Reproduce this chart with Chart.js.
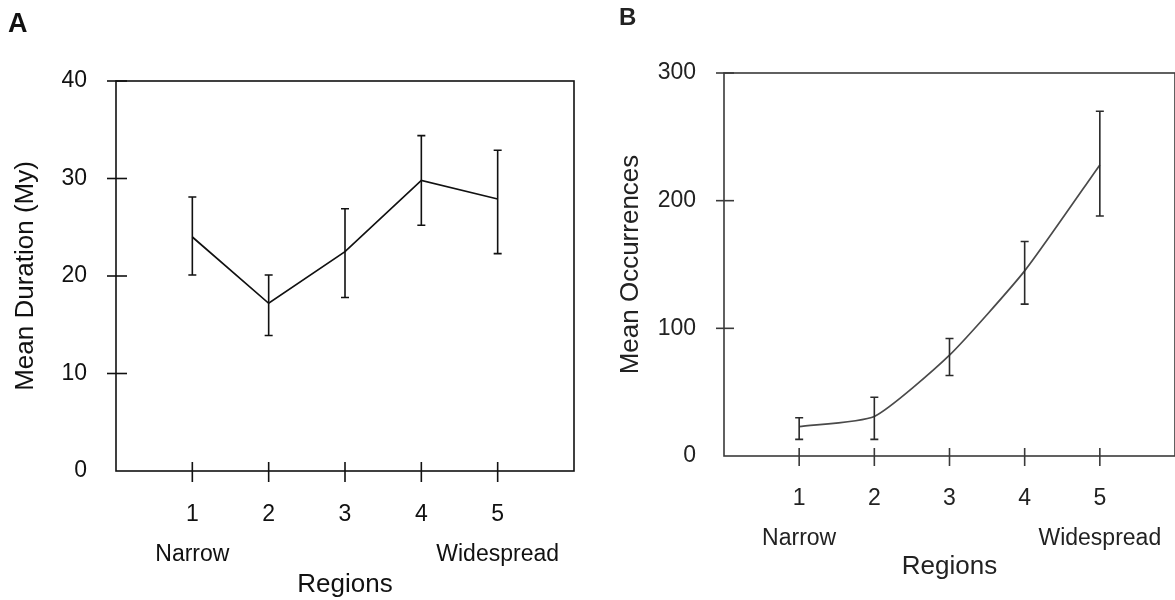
<!DOCTYPE html>
<html><head><meta charset="utf-8">
<script src="https://cdn.jsdelivr.net/npm/chart.js@4.4.1/dist/chart.umd.min.js"></script>
<style>
html,body{margin:0;padding:0;background:#fff;overflow:hidden;width:1175px;height:600px}
#wa{position:absolute;left:0;top:0;width:590px;height:600px}
#wb{position:absolute;left:590px;top:0;width:600px;height:600px}
canvas{display:block}
</style></head><body>
<div id="wa"><canvas id="ca" width="590" height="600"></canvas></div>
<div id="wb"><canvas id="cb" width="600" height="600"></canvas></div>
<script>
// ---- data ----
const regions = [1, 2, 3, 4, 5];
const regionTickLabels = ['1', '2', '3', '4', '5'];
const regionEndLabels = ['Narrow', '', '', '', 'Widespread'];
const durationMean = [24.0, 17.2, 22.5, 29.8, 27.9];
const durationLow  = [20.1, 13.9, 17.8, 25.2, 22.3];
const durationHigh = [28.1, 20.1, 26.9, 34.4, 32.9];
const durationTicks = [0, 10, 20, 30, 40];
const occMean = [23, 31, 79, 145, 228];
const occLow  = [13, 13, 63, 119, 188];
const occHigh = [30, 46, 92, 168, 270];
const occTicks = [0, 100, 200, 300];

const FONT = "'Liberation Sans', Arial, sans-serif";

function xTickLabel(v) {
  const i = regions.indexOf(v);
  if (i < 0) return '';
  return regionEndLabels[i] ? [regionTickLabels[i], regionEndLabels[i]] : regionTickLabels[i];
}

const extras = {
  id: 'extras',
  beforeDatasetsDraw(chart, args, o) {
    const {ctx, chartArea: a, scales: {x, y}} = chart;
    ctx.save();
    ctx.strokeStyle = o.axisColor; ctx.lineWidth = 1.6;
    ctx.strokeRect(a.left, a.top, a.right - a.left, a.bottom - a.top);
    // crossing ticks
    o.yTicks.forEach(v => {
      if (v === 0) return;
      const py = y.getPixelForValue(v);
      ctx.beginPath(); ctx.moveTo(a.left - o.tickOut, py); ctx.lineTo(a.left + o.tickIn, py); ctx.stroke();
    });
    regions.forEach(v => {
      const px = x.getPixelForValue(v);
      ctx.beginPath(); ctx.moveTo(px, a.bottom - o.tickIn + 2); ctx.lineTo(px, a.bottom + o.tickOut + 2); ctx.stroke();
    });
    // panel letter
    ctx.fillStyle = o.textColor;
    ctx.font = 'bold ' + o.letterSize + 'px ' + FONT;
    ctx.textBaseline = 'alphabetic';
    ctx.fillText(o.letter, o.letterX, o.letterY);
    ctx.restore();
  },
  afterDatasetsDraw(chart, args, o) {
    const {ctx, scales: {x, y}} = chart;
    ctx.save();
    ctx.strokeStyle = o.errColor; ctx.lineWidth = 1.6;
    regions.forEach((r, i) => {
      const px = x.getPixelForValue(r);
      const lo = y.getPixelForValue(o.low[i]);
      const hi = y.getPixelForValue(o.high[i]);
      ctx.beginPath();
      ctx.moveTo(px, lo); ctx.lineTo(px, hi);
      ctx.moveTo(px - 4, lo); ctx.lineTo(px + 4, lo);
      ctx.moveTo(px - 4, hi); ctx.lineTo(px + 4, hi);
      ctx.stroke();
    });
    ctx.restore();
  }
};

function makeChart(id, cfg) {
  return new Chart(document.getElementById(id), {
    type: 'line',
    data: {
      datasets: [{
        data: regions.map((r, i) => ({x: r, y: cfg.mean[i]})),
        borderColor: cfg.lineColor,
        borderWidth: 1.7,
        pointRadius: 0,
        fill: false,
        tension: cfg.tension
      }]
    },
    options: {
      responsive: false,
      animation: false,
      events: [],
      layout: {padding: cfg.padding},
      plugins: {
        legend: {display: false},
        tooltip: {enabled: false},
        extras: {
          axisColor: cfg.axisColor, textColor: cfg.textColor, errColor: cfg.errColor,
          yTicks: cfg.yTicks, low: cfg.low, high: cfg.high,
          tickIn: cfg.tickIn, tickOut: cfg.tickOut,
          letter: cfg.letter, letterX: cfg.letterX, letterY: cfg.letterY, letterSize: cfg.letterSize
        }
      },
      scales: {
        x: {
          type: 'linear', min: 0, max: 6,
          grid: {display: false}, border: {display: false},
          ticks: {stepSize: 1, autoSkip: false, maxRotation: 0, padding: cfg.xPad, color: cfg.textColor,
                  font: {family: FONT, size: 23, lineHeight: '40px'}, callback: xTickLabel},
          title: {display: true, text: 'Regions', color: cfg.textColor,
                  font: {family: FONT, size: 26}, padding: {top: 0, bottom: cfg.xTitlePad}},
          afterFit: s => { s.height = cfg.xHeight; }
        },
        y: {
          min: 0, max: cfg.yMax,
          grid: {display: false}, border: {display: false},
          afterBuildTicks: s => { s.ticks = cfg.yTicks.map(v => ({value: v})); },
          ticks: {padding: cfg.yPad, color: cfg.textColor, font: {family: FONT, size: 23}},
          title: {display: true, text: cfg.yTitle, color: cfg.textColor,
                  font: {family: FONT, size: 26}, padding: {top: cfg.yTitlePad, bottom: 0}},
          afterFit: s => { s.width = cfg.yWidth; }
        }
      }
    },
    plugins: [extras]
  });
}

makeChart('ca', {
  mean: durationMean, low: durationLow, high: durationHigh, yTicks: durationTicks, yMax: 40,
  yTitle: 'Mean Duration (My)', letter: 'A', letterX: 8, letterY: 32, letterSize: 27,
  padding: {left: 0, top: 81, right: 14, bottom: 0},
  yWidth: 116, xHeight: 129, xPad: 16, yPad: 21, xTitlePad: 0, yTitlePad: 10,
  tickIn: 11, tickOut: 9, tension: 0,
  lineColor: '#111', axisColor: '#111', textColor: '#111', errColor: '#111'
});

makeChart('cb', {
  mean: occMean, low: occLow, high: occHigh, yTicks: occTicks, yMax: 300,
  yTitle: 'Mean Occurrences', letter: 'B', letterX: 29, letterY: 25, letterSize: 24,
  padding: {left: 0, top: 73, right: 11, bottom: 0},
  yWidth: 134, xHeight: 144, xPad: 15, yPad: 20, xTitlePad: 18, yTitlePad: 25,
  tickIn: 10, tickOut: 8, tension: 0.18,
  lineColor: '#4a4a4a', axisColor: '#3a3a3a', textColor: '#222', errColor: '#2a2a2a'
});
</script>
</body></html>
